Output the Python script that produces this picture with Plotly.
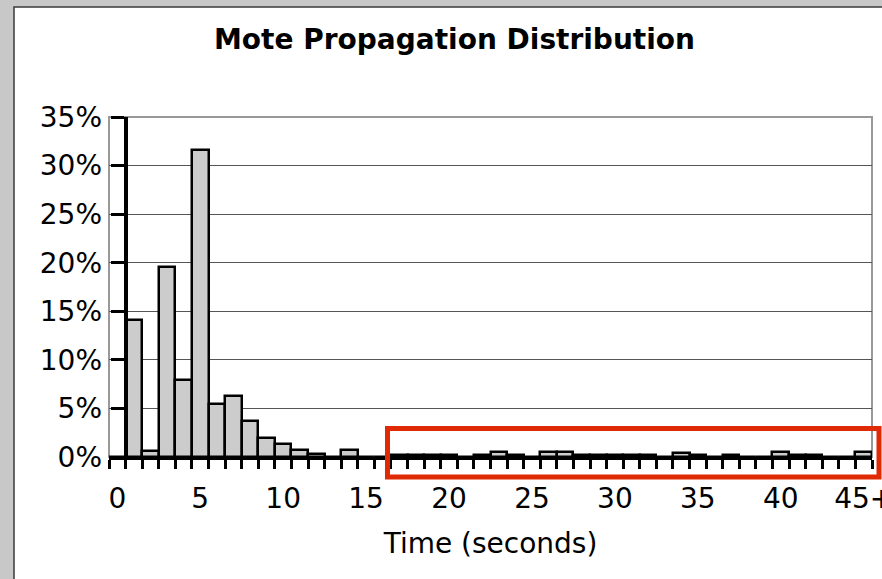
import plotly.graph_objects as go

# ---- data ----
categories = ["0", "1", "2", "3", "4", "5", "6", "7", "8", "9",
              "10", "11", "12", "13", "14", "15", "16", "17", "18", "19",
              "20", "21", "22", "23", "24", "25", "26", "27", "28", "29",
              "30", "31", "32", "33", "34", "35", "36", "37", "38", "39",
              "40", "41", "42", "43", "44", "45+"]
percent = [0.0, 14.1, 0.6, 19.6, 7.9, 31.6, 5.5, 6.3, 3.7, 2.0,
           1.3, 0.7, 0.28, 0.0, 0.7, 0.0, 0.0, 0.25, 0.25, 0.25,
           0.25, 0.0, 0.25, 0.5, 0.25, 0.0, 0.5, 0.5, 0.25, 0.25,
           0.25, 0.25, 0.25, 0.0, 0.4, 0.25, 0.0, 0.25, 0.0, 0.0,
           0.5, 0.25, 0.25, 0.0, 0.0, 0.5]
label_every = 5
y_ticks = [0, 5, 10, 15, 20, 25, 30, 35]
y_labels = ["0%", "5%", "10%", "15%", "20%", "25%", "30%", "35%"]

# ---- geometry ----
W, H = 882, 579
ML, MR, MT, MB = 109, 10, 117, 122
PW, PH = W - ML - MR, H - MT - MB


def px(x):
    return (x - ML) / PW


def py(y):
    return (H - MB - y) / PH


FONT = "DejaVu Sans, Verdana, sans-serif"
n = len(categories)
xs = list(range(n))
tickvals = [i for i in xs if i % label_every == 0]
ticktext = [categories[i] for i in tickvals]
boundaries = [i - 0.5 for i in range(n + 1)]

fig = go.Figure()
fig.add_trace(go.Bar(
    x=xs, y=percent, width=1,
    marker=dict(color="#CCCCCC", line=dict(color="black", width=2.5)),
    hoverinfo="skip",
))

fig.update_layout(
    width=W, height=H,
    margin=dict(l=ML, r=MR, t=MT, b=MB, pad=0),
    paper_bgcolor="#C8C8C8",
    plot_bgcolor="rgba(0,0,0,0)",
    showlegend=False,
    bargap=0,
    font=dict(family=FONT, size=28, color="black"),
    title=dict(
        text="<b>Mote Propagation Distribution</b>",
        font=dict(family=FONT, size=28, color="black"),
        x=454.5 / W, xref="container", xanchor="center",
        y=1 - 39 / H, yref="container", yanchor="middle",
    ),
    xaxis=dict(
        range=[-0.5, n - 0.5],
        tickmode="array", tickvals=tickvals, ticktext=ticktext,
        ticks="", showgrid=False, zeroline=False,
        showline=True, linecolor="black", linewidth=3,
        tickfont=dict(family=FONT, size=28, color="black"),
        ticklabelstandoff=14,
        ticklabeloverflow="allow",
        minor=dict(tickmode="array", tickvals=boundaries, ticks="outside",
                   ticklen=9, tickwidth=3, tickcolor="black", showgrid=False),
        title=dict(text="Time (seconds)", standoff=20,
                   font=dict(family=FONT, size=28, color="black")),
        automargin=False, fixedrange=True,
    ),
    yaxis=dict(
        range=[0, 35], tickmode="array", tickvals=y_ticks, ticktext=y_labels,
        anchor="free", position=1 / n,
        showline=True, linecolor="black", linewidth=4,
        ticks="outside", ticklen=13, tickwidth=3, tickcolor="black",
        showgrid=True, gridcolor="#555555", gridwidth=1,
        zeroline=False,
        tickfont=dict(family=FONT, size=28, color="black"),
        ticklabelstandoff=3,
        ticklabeloverflow="allow",
        automargin=False, fixedrange=True,
    ),
    shapes=[
        # white chart panel with dark border
        dict(type="rect", xref="paper", yref="paper",
             x0=px(14), x1=px(W + 10), y0=py(H + 10), y1=py(7),
             fillcolor="white", line=dict(color="#3a3a3a", width=1.5),
             layer="below"),
        # plot area border
        dict(type="rect", xref="paper", yref="paper",
             x0=0, x1=1, y0=0, y1=1,
             fillcolor="rgba(0,0,0,0)", line=dict(color="#999999", width=2),
             layer="below"),
        # red highlight box
        dict(type="rect", xref="paper", yref="paper",
             x0=px(387.5), x1=px(879), y0=py(477), y1=py(428.5),
             fillcolor="rgba(0,0,0,0)", line=dict(color="#E02A05", width=5),
             layer="above"),
    ],
)

fig.write_html("out.html")
